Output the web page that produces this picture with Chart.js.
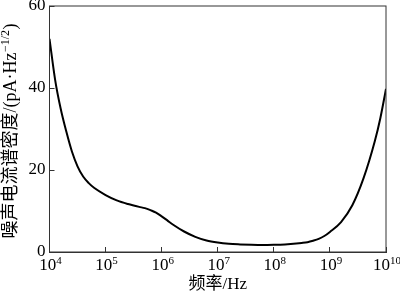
<!DOCTYPE html>
<html>
<head>
<meta charset="utf-8">
<script src="https://cdn.jsdelivr.net/npm/chart.js@4/dist/chart.umd.min.js"></script>
<style>
  html, body { margin: 0; padding: 0; background: #fff; }
  #wrap { width: 400px; height: 297px; }
</style>
</head>
<body>
<div id="wrap"><canvas id="chart"></canvas></div>
<script>
// frequency (Hz) and noise current spectral density (pA/Hz^1/2)
const freqs = [
  1e4, 1.26e4, 1.58e4, 2.0e4, 2.51e4, 3.16e4, 3.98e4, 5.01e4, 6.31e4,
  1e5, 1.58e5, 2.51e5, 3.98e5, 5.01e5, 6.31e5, 7.94e5,
  1e6, 1.26e6, 1.58e6, 2.51e6, 3.98e6, 6.31e6,
  1e7, 1.58e7, 2.51e7, 3.98e7, 6.31e7,
  1e8, 1.58e8, 2.51e8, 3.16e8, 3.98e8, 5.01e8, 6.31e8, 7.94e8,
  1e9, 1.58e9, 2.51e9, 3.98e9, 6.31e9, 7.94e9, 1e10
];
const density = [
  52.0, 42.0, 35.0, 29.3, 24.5, 20.9, 18.4, 16.8, 15.6,
  13.9, 12.6, 11.7, 11.0, 10.7, 10.2, 9.6,
  8.7, 7.7, 6.7, 5.0, 3.7, 2.8,
  2.3, 2.0, 1.85, 1.75, 1.7,
  1.75, 1.85, 2.05, 2.2, 2.4, 2.75, 3.2, 3.9,
  4.9, 7.3, 11.4, 18.0, 27.0, 32.7, 39.8
];
const xTicks = [1e4, 1e5, 1e6, 1e7, 1e8, 1e9, 1e10];
const xTickBase = "10";
const xTickExp = ["4", "5", "6", "7", "8", "9", "10"];
const yTicks = [0, 20, 40, 60];
const xTitle = "频率/Hz";
const yTitle = ["噪声电流谱密度/(pA·Hz", "−1/2", ")"];

const fontFamily = "'Liberation Serif', 'Noto Sans CJK SC', serif";

// box around the plot, x tick labels and y title with real superscripts
const framePlugin = {
  id: "frame",
  afterDraw(chart) {
    const ctx = chart.ctx;
    const a = chart.chartArea;
    const xs = chart.scales.x;
    ctx.save();
    ctx.strokeStyle = "#333";
    ctx.lineWidth = 1;
    ctx.strokeRect(a.left, a.top, a.right - a.left, a.bottom - a.top);

    ctx.fillStyle = "#000";
    ctx.textAlign = "left";

    // x tick labels: 10 with exponent
    ctx.textBaseline = "alphabetic";
    const baseFont = "17px " + fontFamily;
    const expFont = "11px " + fontFamily;
    xTicks.forEach((v, i) => {
      ctx.font = baseFont;
      const wb = ctx.measureText(xTickBase).width;
      ctx.font = expFont;
      const we = ctx.measureText(xTickExp[i]).width;
      const px = xs.getPixelForValue(v);
      let x = px + 1 - (wb + we) / 2;
      ctx.font = baseFont;
      ctx.fillText(xTickBase, x, a.bottom + 18);
      ctx.font = expFont;
      ctx.fillText(xTickExp[i], x + wb, a.bottom + 12);
    });

    // y title
    ctx.textBaseline = "middle";
    const big = "18px " + fontFamily;
    const small = "12px " + fontFamily;
    ctx.font = big;
    const w0 = ctx.measureText(yTitle[0]).width;
    const w2 = ctx.measureText(yTitle[2]).width;
    ctx.font = small;
    const w1 = ctx.measureText(yTitle[1]).width;
    const total = w0 + w1 + w2 + 1;
    ctx.translate(11, (a.top + a.bottom) / 2 + 2);
    ctx.rotate(-Math.PI / 2);
    let x = -total / 2;
    ctx.font = big;
    ctx.fillText(yTitle[0], x, 0);
    x += w0 + 0.5;
    ctx.font = small;
    ctx.fillText(yTitle[1], x, -5);
    x += w1 + 0.5;
    ctx.font = big;
    ctx.fillText(yTitle[2], x, 0);
    ctx.restore();
  }
};

new Chart(document.getElementById("chart"), {
  "type": "line",
  "data": {
    "datasets": [{
      "data": freqs.map((f, i) => ({ "x": f, "y": density[i] })),
      "borderColor": "#000",
      "borderWidth": 2,
      "pointRadius": 0,
      "fill": false,
      "cubicInterpolationMode": "monotone"
    }]
  },
  "options": {
    "responsive": true,
    "maintainAspectRatio": false,
    "animation": false,
    "layout": { "padding": { "top": 6, "right": 14, "left": 0, "bottom": 0 } },
    "plugins": {
      "legend": { "display": false },
      "tooltip": { "enabled": false }
    },
    "scales": {
      "x": {
        "type": "logarithmic",
        "min": 1e4,
        "max": 1e10,
        "afterBuildTicks": (scale) => {
          scale.ticks = xTicks.map(v => ({ "value": v }));
        },
        "afterFit": (scale) => {
          scale.height = 45;
          scale.paddingLeft = 0;
          scale.paddingRight = 0;
        },
        "border": { "color": "#333", "width": 1 },
        "grid": {
          "drawOnChartArea": false,
          "tickLength": -5,
          "color": "#333"
        },
        "ticks": {
          "autoSkip": false,
          "maxRotation": 0,
          "padding": 8,
          "callback": () => ""
        },
        "title": {
          "display": true,
          "text": xTitle,
          "color": "#000",
          "font": { "family": fontFamily, "size": 17 },
          "padding": { "top": 0, "bottom": 2 }
        }
      },
      "y": {
        "min": 0,
        "max": 60,
        "afterBuildTicks": (scale) => {
          scale.ticks = yTicks.map(v => ({ "value": v }));
        },
        "afterFit": (scale) => {
          scale.width = 49.5;
          scale.paddingTop = 0;
          scale.paddingBottom = 0;
        },
        "border": { "color": "#333", "width": 1 },
        "grid": {
          "drawOnChartArea": false,
          "tickLength": -5,
          "color": "#333"
        },
        "ticks": {
          "padding": 9,
          "color": "#000",
          "font": { "family": fontFamily, "size": 17 }
        }
      }
    }
  },
  "plugins": [framePlugin]
});
</script>
</body>
</html>
